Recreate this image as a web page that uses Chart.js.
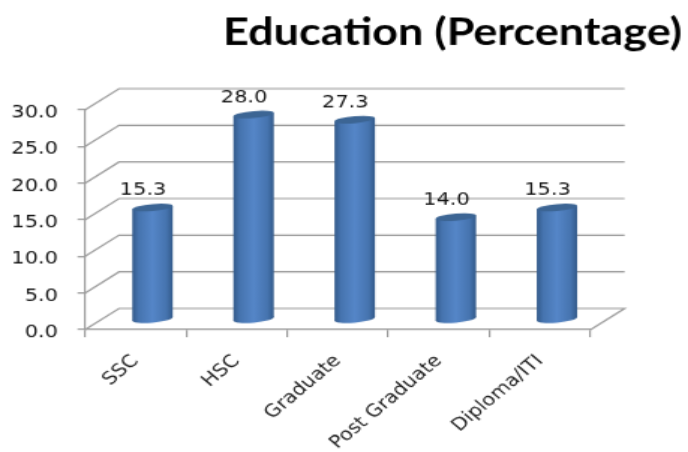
<!DOCTYPE html>
<html>
<head>
<meta charset="utf-8">
<script src="https://cdn.jsdelivr.net/npm/chart.js@4"></script>
<style>
html, body { margin: 0; padding: 0; background: #fff; overflow: hidden; }
/* reference is an enlarged low-res picture, so the canvas is enlarged the same way */
canvas { display: block; width: 688px !important; height: 452px !important; }
</style>
</head>
<body>
<canvas id="chart" width="459" height="362"></canvas>
<script>
const categories = ['SSC', 'HSC', 'Graduate', 'Post Graduate', 'Diploma/ITI'];
const values = [15.3, 28.0, 27.3, 14.0, 15.3];
const chartTitle = 'Education (Percentage)';

const wallDepth = { x: 22.7, y: 17 };
const barDepth = { x: 11.3, y: 8 };
const tilt = -0.1;
const gridColor = '#9b9b9b';
const textColor = '#111';
const labelFont = '14px "DejaVu Sans"';

function barGradient(context) {
    const chart = context.chart;
    const xScale = chart.scales.x;
    const half = xScale.width / categories.length * 0.2;
    const cx = xScale.getPixelForValue(context.dataIndex);
    if (!Number.isFinite(half) || !Number.isFinite(cx)) return '#4f81bd';
    const g = chart.ctx.createLinearGradient(cx - half, 0, cx + half, 0);
    g.addColorStop(0, '#335a8a');
    g.addColorStop(0.16, '#4674af');
    g.addColorStop(0.5, '#5586c8');
    g.addColorStop(0.84, '#4674af');
    g.addColorStop(1, '#335a8a');
    return g;
}

const wallPlugin = {
    id: 'wall',
    beforeDatasetsDraw(chart) {
        const ctx = chart.ctx;
        const y = chart.scales.y;
        const left = chart.chartArea.left;
        const right = chart.chartArea.right;
        ctx.save();
        ctx.strokeStyle = gridColor;
        ctx.lineWidth = 1.2;
        ctx.font = labelFont;
        ctx.fillStyle = textColor;
        ctx.textAlign = 'right';
        ctx.textBaseline = 'middle';
        y.ticks.forEach((t, i) => {
            const py = y.getPixelForTick(i);
            ctx.beginPath();
            ctx.moveTo(left, py);
            ctx.lineTo(left + wallDepth.x, py - wallDepth.y);
            ctx.lineTo(right + wallDepth.x, py - wallDepth.y);
            if (i === 0) ctx.lineTo(right, py);
            ctx.stroke();
            // tick labels sit a little under their gridline in the reference
            ctx.fillText(t.label, left - 18, py + 2.5);
        });
        ctx.restore();
    }
};

const cylinderPlugin = {
    id: 'cylinder',
    beforeDatasetDraw(chart, args) {
        const ctx = chart.ctx;
        args.meta.data.forEach((bar, i) => {
            const cx = bar.x;
            const rx = bar.width / 2;
            ctx.save();
            ctx.translate(barDepth.x, -barDepth.y);
            ctx.transform(1, tilt, 0, 1, 0, -tilt * cx);
            ctx.fillStyle = bar.options.backgroundColor;
            ctx.beginPath();
            ctx.ellipse(cx, bar.base, rx, 3, 0, 0, Math.PI * 2);
            ctx.fill();
            bar.draw(ctx);
            ctx.fillStyle = '#3c6594';
            ctx.beginPath();
            ctx.ellipse(cx, bar.y, rx, 2.8, 0, 0, Math.PI * 2);
            ctx.fill();
            ctx.restore();

            ctx.save();
            ctx.font = labelFont;
            ctx.fillStyle = textColor;
            ctx.textAlign = 'center';
            ctx.textBaseline = 'middle';
            ctx.fillText(values[i].toFixed(1), cx + 5, bar.y - 21.5);
            ctx.restore();
        });
        return false;
    }
};

new Chart(document.getElementById('chart'), {
    type: 'bar',
    data: {
        labels: categories,
        datasets: [{
            data: values,
            backgroundColor: barGradient,
            borderWidth: 0,
            barPercentage: 0.4,
            categoryPercentage: 1
        }]
    },
    plugins: [wallPlugin, cylinderPlugin],
    options: {
        responsive: false,
        animation: false,
        layout: { padding: { right: 4 } },
        plugins: {
            legend: { display: false },
            tooltip: { enabled: false },
            title: {
                display: true,
                text: chartTitle,
                align: 'end',
                color: '#000',
                font: { family: 'Lato', size: 30, weight: 'bold' },
                padding: { top: 8, bottom: 44 }
            }
        },
        scales: {
            x: {
                afterFit(scale) { scale.height = 98; },
                grid: { drawOnChartArea: false, color: gridColor, lineWidth: 1.2, tickLength: 6 },
                border: { color: gridColor, width: 1.2 },
                ticks: {
                    color: '#222',
                    padding: 11,
                    font: { family: 'DejaVu Sans', size: 14 },
                    minRotation: 45,
                    maxRotation: 45,
                    autoSkip: false
                }
            },
            y: {
                min: 0,
                max: 30,
                afterFit(scale) { scale.width = 56.7; },
                grid: { drawOnChartArea: false, color: gridColor, lineWidth: 1.2, tickLength: 5 },
                border: { color: gridColor, width: 1.2 },
                ticks: {
                    display: false,
                    stepSize: 5,
                    callback: v => v.toFixed(1)
                }
            },
            spare: {
                position: 'right',
                afterFit(scale) { scale.width = 61; },
                grid: { display: false },
                border: { display: false },
                ticks: { display: false }
            }
        }
    }
});
</script>
</body>
</html>
